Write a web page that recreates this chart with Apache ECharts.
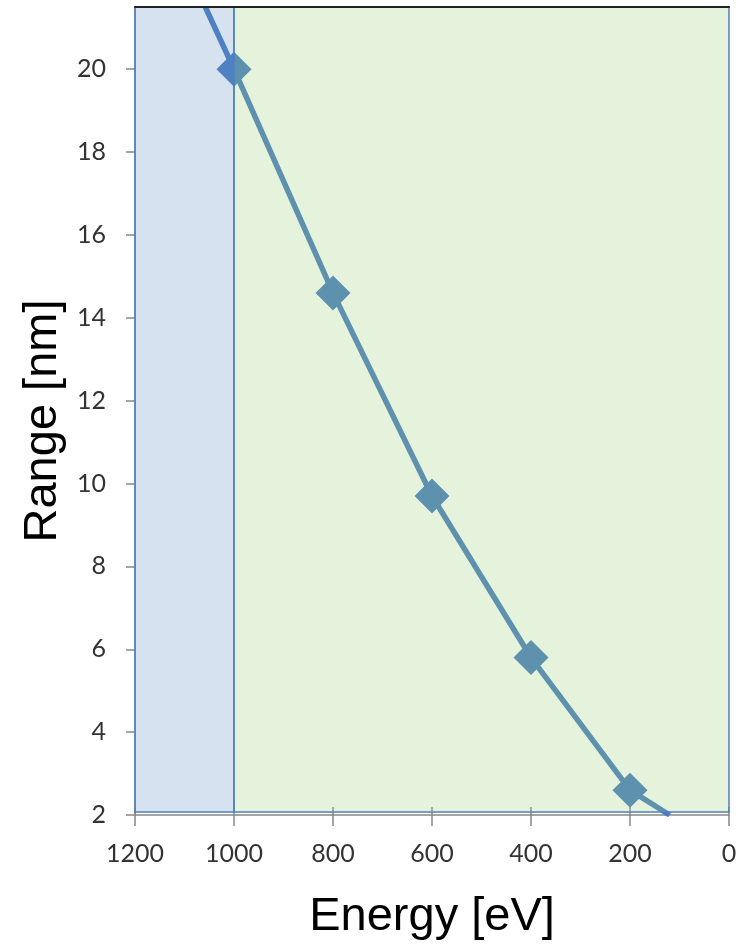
<!DOCTYPE html>
<html><head><meta charset="utf-8">
<script src="https://cdn.jsdelivr.net/npm/echarts@6/dist/echarts.min.js"></script>
<style>html,body{margin:0;padding:0;background:#fff}#c{width:750px;height:946px}</style>
</head><body><div id="c"></div>
<script>
// measured points
const energy = [1000, 800, 600, 400, 200];
const range = [20, 14.6, 9.7, 5.8, 2.6];
// line continues past the plotted points to the plot edges
const lineStart = [1058, 21.5];
const lineEnd = [120, 2.0];
// shaded regions (energy from, energy to, range bottom, range top)
const regionFrom = [1200, 1000];
const regionTo = [1000, 0];
const regionBottom = 2.07;
const regionTop = 21.5;
const yTicks = [2, 4, 6, 8, 10, 12, 14, 16, 18, 20];

const regionFills = ['rgba(95,139,195,0.25)', 'rgba(155,207,115,0.25)'];

const lineData = [{value: lineStart, symbol: 'none'}]
  .concat(energy.map((e, i) => ({value: [e, range[i]]})))
  .concat([{value: lineEnd, symbol: 'none'}]);

const regionData = regionFrom.map((f, i) => [f, regionTo[i], regionBottom, regionTop, i]);

const labelFont = {fontFamily: 'Lato', fontSize: 25, color: '#333'};

const chart = echarts.init(document.getElementById('c'), null, {renderer: 'canvas'});
chart.setOption({
  animation: false,
  grid: {left: 135, right: 21, top: 7, bottom: 130},
  xAxis: [{
    type: 'value', inverse: true, min: 0, max: 1200, interval: 200,
    position: 'bottom',
    splitLine: {show: false},
    axisLine: {onZero: false, lineStyle: {color: '#888', width: 1.5}},
    axisTick: {length: 11, lineStyle: {color: '#888', width: 1.5}},
    axisLabel: Object.assign({margin: 26, formatter: v => String(v)}, labelFont),
    name: 'Energy [eV]', nameLocation: 'middle', nameGap: 79,
    nameTextStyle: {fontFamily: 'Liberation Sans', fontSize: 47, color: '#000'}
  }, {
    type: 'value', inverse: true, min: 0, max: 1200, interval: 200,
    position: 'bottom',
    splitLine: {show: false},
    axisLine: {show: false, onZero: false},
    axisTick: {inside: true, length: 8, lineStyle: {color: '#888', width: 1.5}},
    axisLabel: {show: false}
  }, {
    type: 'value', inverse: true, min: 0, max: 1200,
    position: 'top', z: 20,
    splitLine: {show: false},
    axisLine: {onZero: false, lineStyle: {color: '#222', width: 2}},
    axisTick: {show: false},
    axisLabel: {show: false}
  }],
  yAxis: {
    type: 'value', min: 2, max: 21.5, interval: 2,
    splitLine: {show: false},
    axisLine: {show: true, onZero: false, lineStyle: {color: '#888', width: 1.5}},
    axisTick: {show: true, length: 9, customValues: yTicks, lineStyle: {color: '#888', width: 1.5}},
    axisLabel: Object.assign({margin: 29, customValues: yTicks}, labelFont),
    name: 'Range [nm]', nameLocation: 'middle', nameGap: 58, nameRotate: 90,
    nameTextStyle: {fontFamily: 'Liberation Sans', fontSize: 47, color: '#000', padding: [0, 20, 0, 0]}
  },
  series: [{
    type: 'line',
    xAxisIndex: 0,
    data: lineData,
    symbol: 'diamond',
    symbolSize: 35,
    z: 2,
    lineStyle: {color: '#4a7cc2', width: 5.5},
    itemStyle: {color: '#4a7cc2'}
  }, {
    type: 'custom',
    xAxisIndex: 0,
    z: 10,
    data: regionData,
    renderItem: function (params, api) {
      const p0 = api.coord([api.value(0), api.value(3)]);
      const p1 = api.coord([api.value(1), api.value(2)]);
      const x = Math.min(p0[0], p1[0]), y = Math.min(p0[1], p1[1]);
      return {
        type: 'rect',
        shape: {x: x, y: y, width: Math.abs(p1[0] - p0[0]), height: Math.abs(p1[1] - p0[1])},
        style: {fill: regionFills[api.value(4)], stroke: '#4F81BD', lineWidth: 1.5}
      };
    }
  }]
});
</script></body></html>
